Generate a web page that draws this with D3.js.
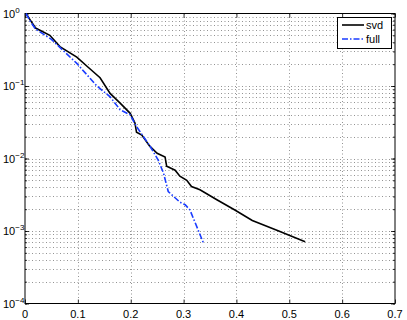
<!DOCTYPE html>
<html>
<head>
<script src="https://cdn.jsdelivr.net/npm/d3@7"></script>
<style>
body { margin: 0; background: white; }
text { font-family: "Liberation Sans", Arial, sans-serif; font-size: 11px; fill: black; }
.grid line { stroke: #777; stroke-width: 0.8; stroke-dasharray: 1,2.5; }
</style>
</head>
<body>
<script>

// svd curve
var svdX = [0.002, 0.010, 0.020, 0.047, 0.066, 0.098, 0.120, 0.142, 0.161, 0.180, 0.199, 0.208, 0.211,
	0.221, 0.236, 0.250, 0.265, 0.268, 0.284, 0.293, 0.306, 0.315, 0.331, 0.363, 0.397, 0.430, 0.480, 0.530];
var svdY = [1.0, 0.81, 0.63, 0.50, 0.35, 0.25, 0.18, 0.13, 0.079, 0.058, 0.042, 0.031, 0.023,
	0.021, 0.0148, 0.0118, 0.0105, 0.0078, 0.0069, 0.0057, 0.0050, 0.0041, 0.0037, 0.0027, 0.00195, 0.0014, 0.0010, 0.00071];

// full curve
var fullX = [0.002, 0.010, 0.020, 0.050, 0.098, 0.136, 0.161, 0.180, 0.199, 0.211, 0.236, 0.252,
	0.262, 0.271, 0.293, 0.303, 0.312, 0.322, 0.337];
var fullY = [1.0, 0.78, 0.61, 0.44, 0.205, 0.10, 0.071, 0.047, 0.040, 0.0275, 0.0150, 0.0095,
	0.0063, 0.0035, 0.0025, 0.0023, 0.00195, 0.0013, 0.0007];

var xTicks = [0, 0.1, 0.2, 0.3, 0.4, 0.5, 0.6, 0.7];
var yExps = [0, -1, -2, -3, -4];
var seriesNames = ["svd", "full"];

var w = 407, h = 320;
var pL = 25, pR = 395, pT = 13.5, pB = 303.5;

var svg = d3.select("body").append("svg")
	.attr("width", w)
	.attr("height", h);

var x = d3.scaleLinear().domain([0, 0.7]).range([pL, pR]);
var y = d3.scaleLog().domain([1e-4, 1]).range([pB, pT]);

// minor log ticks
var yMinor = [];
for (var e = -4; e < 0; e++) {
	for (var k = 1; k < 10; k++) yMinor.push(k * Math.pow(10, e));
}
yMinor.push(1);

var grid = svg.append("g").attr("class", "grid");
grid.selectAll("line.gy").data(yMinor.filter(function(d) { return d > 1.01e-4 && d < 0.99; }))
	.enter().append("line")
	.attr("x1", pL).attr("x2", pR)
	.attr("y1", function(d) { return Math.round(y(d)) + 0.5; })
	.attr("y2", function(d) { return Math.round(y(d)) + 0.5; });
grid.selectAll("line.gx").data(xTicks.filter(function(d) { return d > 0 && d < 0.7; }))
	.enter().append("line")
	.attr("y1", pT).attr("y2", pB)
	.attr("x1", function(d) { return Math.round(x(d)) + 0.5; })
	.attr("x2", function(d) { return Math.round(x(d)) + 0.5; });

// axes with inside ticks
var majors = yExps.map(function(d) { return Math.pow(10, d); });
var axB = d3.axisBottom(x).tickValues(xTicks).tickSize(-4).tickFormat("");
var axT = d3.axisTop(x).tickValues(xTicks).tickSize(-4).tickFormat("");
var axL = d3.axisLeft(y).tickValues(yMinor).tickSize(-2).tickFormat("");
var axR = d3.axisRight(y).tickValues(yMinor).tickSize(-2).tickFormat("");
var axL2 = d3.axisLeft(y).tickValues(majors).tickSize(-4).tickFormat("");
var axR2 = d3.axisRight(y).tickValues(majors).tickSize(-4).tickFormat("");

[[axB, "translate(0," + pB + ")"], [axT, "translate(0," + pT + ")"],
 [axL, "translate(" + pL + ",0)"], [axR, "translate(" + pR + ",0)"],
 [axL2, "translate(" + pL + ",0)"], [axR2, "translate(" + pR + ",0)"]].forEach(function(a) {
	var g = svg.append("g").attr("transform", a[1]).call(a[0]);
	g.select(".domain").remove();
	g.selectAll("line").attr("stroke", "black").attr("stroke-width", 0.8);
});

svg.append("rect")
	.attr("x", pL).attr("y", pT)
	.attr("width", pR - pL).attr("height", pB - pT)
	.attr("fill", "none").attr("stroke", "black").attr("stroke-width", 1);

// x tick labels
svg.selectAll("text.xl").data(xTicks).enter().append("text")
	.attr("x", function(d) { return x(d); })
	.attr("y", pB + 14)
	.attr("text-anchor", "middle")
	.text(function(d) { return d === 0 ? "0" : d3.format(".1f")(d); });

// y tick labels 10^n
var yl = svg.selectAll("text.yl").data(yExps).enter().append("text")
	.attr("x", 3)
	.attr("y", function(d) { return y(Math.pow(10, d)) + 4; });
yl.append("tspan").text("10");
yl.append("tspan").attr("dy", -5).style("font-size", "8px").text(function(d) { return d === 0 ? "0" : "\u2212" + (-d); });

var line = d3.line()
	.x(function(d) { return x(d[0]); })
	.y(function(d) { return y(d[1]); });

var svdData = svdX.map(function(v, i) { return [v, svdY[i]]; });
var fullData = fullX.map(function(v, i) { return [v, fullY[i]]; });

svg.append("path").datum(svdData)
	.attr("d", line)
	.attr("fill", "none").attr("stroke", "black").attr("stroke-width", 1.6);
svg.append("path").datum(fullData)
	.attr("d", line)
	.attr("fill", "none").attr("stroke", "#1a3cff").attr("stroke-width", 1.6)
	.attr("stroke-dasharray", "6,2,1.5,2");

// legend
var lg = svg.append("g");
lg.append("rect").attr("x", 337.5).attr("y", 17.5).attr("width", 54).attr("height", 31)
	.attr("fill", "white").attr("stroke", "black").attr("stroke-width", 1);
var styles = [{c: "black", d: null}, {c: "#1a3cff", d: "6,2,1.5,2"}];
seriesNames.forEach(function(n, i) {
	var yy = 25 + i * 14;
	lg.append("line").attr("x1", 342).attr("x2", 364).attr("y1", yy).attr("y2", yy)
		.attr("stroke", styles[i].c).attr("stroke-width", 1.6)
		.attr("stroke-dasharray", styles[i].d);
	lg.append("text").attr("x", 366).attr("y", yy + 4).text(n);
});

</script>
</body>
</html>
